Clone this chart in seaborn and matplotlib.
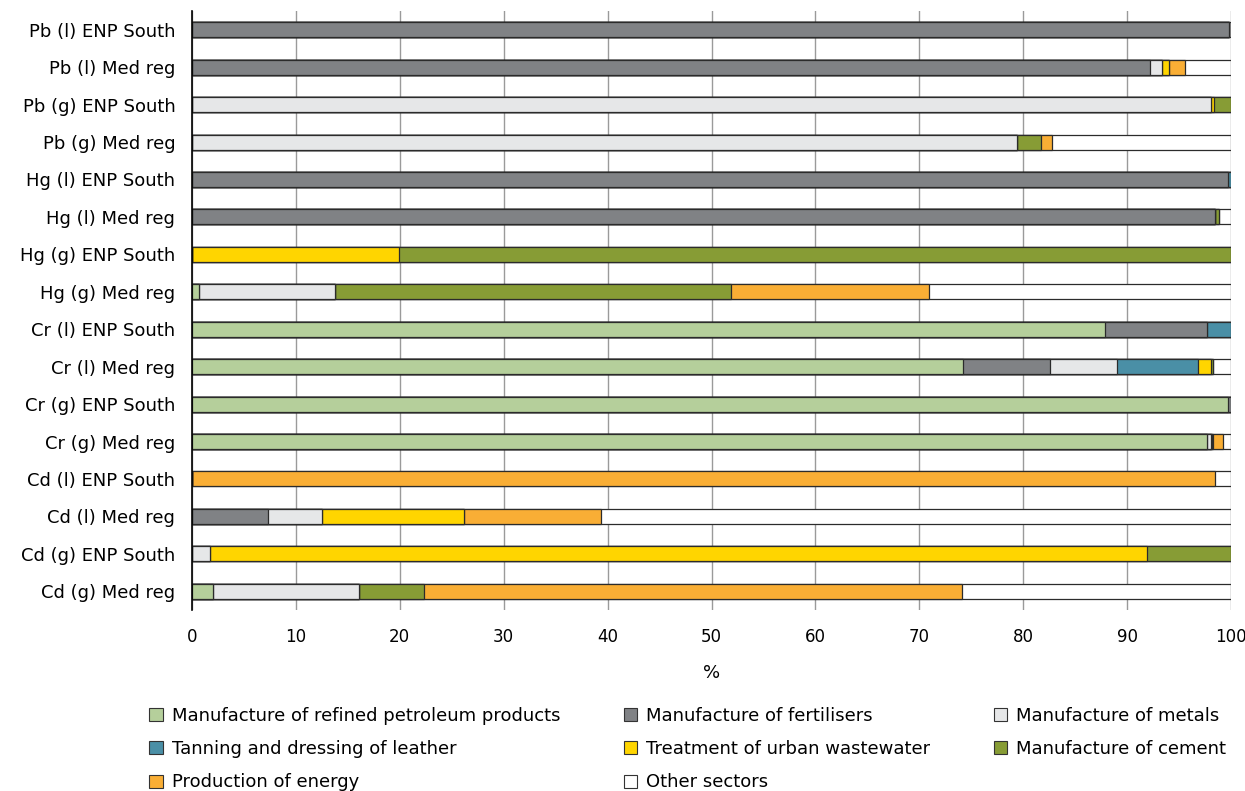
import matplotlib
matplotlib.use("Agg")
import matplotlib.pyplot as plt
from matplotlib.patches import Patch
import numpy as np
import pandas as pd
import seaborn as sns

# Datos (porcentaje por sector)
rows = [
    "Pb (l) ENP South", "Pb (l) Med reg", "Pb (g) ENP South", "Pb (g) Med reg",
    "Hg (l) ENP South", "Hg (l) Med reg", "Hg (g) ENP South", "Hg (g) Med reg",
    "Cr (l) ENP South", "Cr (l) Med reg", "Cr (g) ENP South", "Cr (g) Med reg",
    "Cd (l) ENP South", "Cd (l) Med reg", "Cd (g) ENP South", "Cd (g) Med reg",
]
sectors = [
    "Manufacture of refined petroleum products", "Manufacture of fertilisers",
    "Manufacture of metals", "Tanning and dressing of leather",
    "Treatment of urban wastewater", "Manufacture of cement",
    "Production of energy", "Other sectors",
]
petroleum  = [0, 0, 0, 0, 0, 0, 0, 0.7, 87.9, 74.2, 99.7, 97.7, 0, 0, 0, 2.0]
fertiliser = [99.8, 92.2, 0, 0, 99.7, 98.5, 0, 0, 9.8, 8.4, 0.3, 0, 0, 7.3, 0, 0]
metals     = [0, 1.2, 98.1, 79.4, 0, 0, 0, 13.1, 0, 6.4, 0, 0.4, 0, 5.2, 1.7, 14.1]
leather    = [0, 0, 0, 0, 0.3, 0, 0, 0, 2.3, 7.8, 0, 0, 0, 0, 0, 0]
wastewater = [0, 0.6, 0.3, 0, 0, 0, 19.9, 0, 0, 1.3, 0, 0.1, 0, 13.7, 90.2, 0]
cement     = [0, 0, 1.6, 2.3, 0, 0.3, 80.1, 38.1, 0, 0.2, 0, 0.1, 0, 0, 8.1, 6.2]
energy     = [0, 1.6, 0, 1.1, 0, 0, 0, 19.0, 0, 0, 0, 0.9, 98.5, 13.2, 0, 51.8]
other      = [0.2, 4.4, 0, 17.2, 0, 1.2, 0, 29.1, 0, 1.7, 0, 0.8, 1.5, 60.6, 0, 25.9]

colors = ["#b5cf9b", "#808285", "#e6e7e8", "#4a8fa6",
          "#ffd500", "#879c35", "#f9ae35", "#ffffff"]

values = [petroleum, fertiliser, metals, leather, wastewater, cement, energy, other]
df = pd.DataFrame(dict(zip(sectors, values)), index=rows)
cum = df.cumsum(axis=1)

plt.rcParams["font.family"] = ["DejaVu Sans"]
fig = plt.figure(figsize=(12.45, 7.91), dpi=100)
ax = fig.add_axes([0.1542, 0.2288, 0.8346, 0.7573])

# Barras apiladas: se dibuja el acumulado de mayor a menor
for sector, color in reversed(list(zip(sectors, colors))):
    d = pd.DataFrame({"fila": rows, "valor": cum[sector].values})
    sns.barplot(data=d, x="valor", y="fila", color=color, width=0.4,
                edgecolor="#2b2b2b", linewidth=0.9, saturation=1, ax=ax)

ax.set_xlim(0, 100)
ax.set_xticks(range(0, 101, 10))
ax.grid(axis="x", color="#9a9a9a", linewidth=1)
ax.set_axisbelow(True)
for s in ["top", "right", "bottom"]:
    ax.spines[s].set_visible(False)
ax.spines["left"].set_color("black")
ax.spines["left"].set_linewidth(1.2)
ax.tick_params(axis="both", length=0, labelsize=12, colors="black")
ax.tick_params(axis="y", labelsize=13, pad=12)
ax.tick_params(axis="x", pad=13)
ax.set_ylabel("")
ax.set_xlabel("%", fontsize=13, labelpad=13)

handles = [Patch(facecolor=c, edgecolor="#333333", linewidth=0.8) for c in colors]
order = [0, 3, 6, 1, 4, 7, 2, 5]
fig.legend([handles[i] for i in order], [sectors[i] for i in order],
           loc="upper left", bbox_to_anchor=(0.107, 0.127),
           bbox_transform=fig.transFigure,
           ncol=3, frameon=False, fontsize=13, handlelength=0.75,
           handleheight=0.75, handletextpad=0.5, labelspacing=0.85,
           columnspacing=3.5)

fig.savefig("out.png", dpi=100)
